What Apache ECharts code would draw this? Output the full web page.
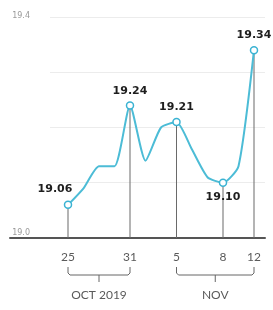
<!DOCTYPE html>
<html><head><meta charset="utf-8">
<script src="https://cdn.jsdelivr.net/npm/echarts@6/dist/echarts.min.js"></script>
<style>html,body{margin:0;padding:0;background:#fff}#c{width:273px;height:310px}</style>
</head><body><div id="c"></div>
<script>
var dates = ['25','28','29','30','31','1','4','5','6','7','8','11','12'];
var values = [19.06, 19.09, 19.13, 19.13, 19.24, 19.14, 19.20, 19.21, 19.16, 19.11, 19.10, 19.13, 19.34];
var highlighted = [0, 4, 7, 10, 12];
var labelBelow = [10];
var monthGroups = [{name:'OCT 2019', from:'25', to:'31'}, {name:'NOV', from:'5', to:'12'}];
var yMin = 19.0, yMax = 19.4, yStep = 0.1;
var yShown = ['19.4', '19.0'];

var chart = echarts.init(document.getElementById('c'), null, {renderer:'canvas'});
var lineColor = '#4cbcd6';
var lineData = values.map(function(v, i){
  var h = highlighted.indexOf(i) >= 0;
  var item = {value: v, symbol: h ? 'circle' : 'none'};
  if (h) {
    var below = labelBelow.indexOf(i) >= 0;
    item.label = {show: true, position: below ? 'bottom' : 'top', offset: i === 0 ? [-13, -1] : [0, 0],
      formatter: v.toFixed(2)};
  }
  return item;
});
var dropData = values.map(function(v, i){ return highlighted.indexOf(i) >= 0 ? v : '-'; });

chart.setOption({
  animation: false,
  grid: [
    {left: 68, right: 19, top: 17, bottom: 72},
    {left: 50, right: 8, top: 17, bottom: 72},
    {left: 10, right: 8, top: 17, bottom: 72}
  ],
  xAxis: [
    {gridIndex: 0, type: 'category', data: dates, boundaryGap: false,
      axisLine: {show: false}, axisTick: {show: false}, splitLine: {show: false},
      axisLabel: {margin: 13, fontSize: 12, color: '#5a5a5a', fontFamily: 'Lato',
        interval: function(i){ return highlighted.indexOf(i) >= 0; }}},
    {gridIndex: 1, type: 'value', min: 0, max: 1, show: false},
    {gridIndex: 2, type: 'value', min: 0, max: 1, position: 'bottom',
      axisLine: {show: true, onZero: false, lineStyle: {color: '#555', width: 2}},
      axisTick: {show: false}, axisLabel: {show: false}, splitLine: {show: false}}
  ],
  yAxis: [
    {gridIndex: 0, type: 'value', min: yMin, max: yMax, interval: yStep, show: false},
    {gridIndex: 1, type: 'value', min: yMin, max: yMax, interval: yStep,
      axisLine: {show: false}, axisTick: {show: false},
      splitLine: {show: true, lineStyle: {color: '#ececec', width: 1}},
      axisLabel: {margin: 20, fontSize: 8, color: '#9a9a9a', fontFamily: 'DejaVu Sans',
        formatter: function(v){
          var s = v.toFixed(1);
          if (yShown.indexOf(s) < 0) return '';
          return s === '19.0' ? '{b|' + s + '}' : '{a|' + s + '}';
        },
        rich: {a: {fontSize: 8, color: '#9a9a9a', padding: [0,0,3,0]}, b: {fontSize: 8, color: '#9a9a9a', padding: [0,0,11,0]}}}},
    {gridIndex: 2, type: 'value', min: 0, max: 1, show: false}
  ],
  series: [
    {type: 'bar', xAxisIndex: 0, yAxisIndex: 0, data: dropData, barWidth: 1,
      itemStyle: {color: '#6a6a6a'}, z: 1, silent: true},
    {type: 'line', xAxisIndex: 0, yAxisIndex: 0, data: lineData, smooth: 0.2,
      lineStyle: {color: lineColor, width: 2}, symbolSize: 7,
      itemStyle: {color: '#fff', borderColor: '#3bb3d3', borderWidth: 1.5},
      label: {color: '#1e1e1e', fontSize: 11, fontWeight: 'bold', fontFamily: 'DejaVu Sans', distance: 5},
      z: 3}
  ]
});

var graphics = [];
monthGroups.forEach(function(g){
  var x0 = chart.convertToPixel({xAxisIndex: 0}, g.from);
  var x1 = chart.convertToPixel({xAxisIndex: 0}, g.to);
  var xm = (x0 + x1) / 2;
  graphics.push({type: 'polyline', shape: {points: [[x0,267],[x0,273],[x0+2,275],[x1-2,275],[x1,273],[x1,267]]},
    style: {stroke: '#666', lineWidth: 1, fill: null}, silent: true});
  graphics.push({type: 'line', shape: {x1: xm, y1: 275, x2: xm, y2: 282},
    style: {stroke: '#666', lineWidth: 1}, silent: true});
  graphics.push({type: 'text', x: xm, y: 295, style: {text: g.name, fill: '#5a5a5a', fontSize: 12,
    fontFamily: 'Lato', align: 'center', verticalAlign: 'middle'}, silent: true});
});
chart.setOption({graphic: graphics});
</script></body></html>
